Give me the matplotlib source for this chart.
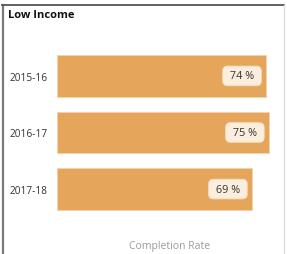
import matplotlib
matplotlib.use('Agg')
import matplotlib.pyplot as plt
from matplotlib.lines import Line2D

plt.rcParams['font.family'] = ['Open Sans', 'DejaVu Sans']

years = ['2015-16', '2016-17', '2017-18']
rates = [74, 75, 69]
title = 'Low Income'
xlabel = 'Completion Rate'

BAR = '#E5A65C'
W, H = 287, 255

# axes placed so that one category step is ~56.5 px
top, bottom = 43, 224
fig = plt.figure(figsize=(W / 100, H / 100), dpi=100)
ax = fig.add_axes([57 / W, 1 - bottom / H, (283 - 57) / W, (bottom - top) / H])

pos = list(range(len(years)))
ax.barh(pos, rates, height=0.74, color=BAR, edgecolor='#F3D2AC', linewidth=0.6)
ax.set_xlim(0, 80)
ax.set_ylim(len(years) - 0.4, -0.6)
ax.set_yticks(pos)
ax.set_yticklabels(years, fontsize=7.3, color='#333333')
ax.tick_params(axis='y', length=0, pad=6.5)
ax.set_xticks([])
for s in ax.spines.values():
    s.set_visible(False)
ax.set_xlabel(xlabel, fontsize=7.5, color='#9a9a9a', labelpad=12)

for y, v in zip(pos, rates):
    ax.annotate(f' {v} % ', xy=(v, y), xytext=(-6.5, 0), textcoords='offset points',
                ha='right', va='center', fontsize=7.8, color='#333333',
                bbox=dict(boxstyle='round,pad=0.4,rounding_size=0.45',
                          fc='#FCEEDD', ec='#F6DCC0', lw=0.6))

fig.text(8 / W, 1 - 16 / H, title, fontsize=8, fontweight='bold',
         color='#111111', ha='left', va='center')

# panel frame
fig.add_artist(Line2D([2.5 / W, 2.5 / W], [0, 1 - 5.5 / H], color='#7a7a7a', lw=1.6))
fig.add_artist(Line2D([2 / W, 284 / W], [1 - 5.5 / H, 1 - 5.5 / H], color='#555555', lw=1.3))
fig.add_artist(Line2D([284 / W, 284 / W], [0, 1 - 5.5 / H], color='#dddddd', lw=1.0))

fig.savefig('out.png', dpi=100)
